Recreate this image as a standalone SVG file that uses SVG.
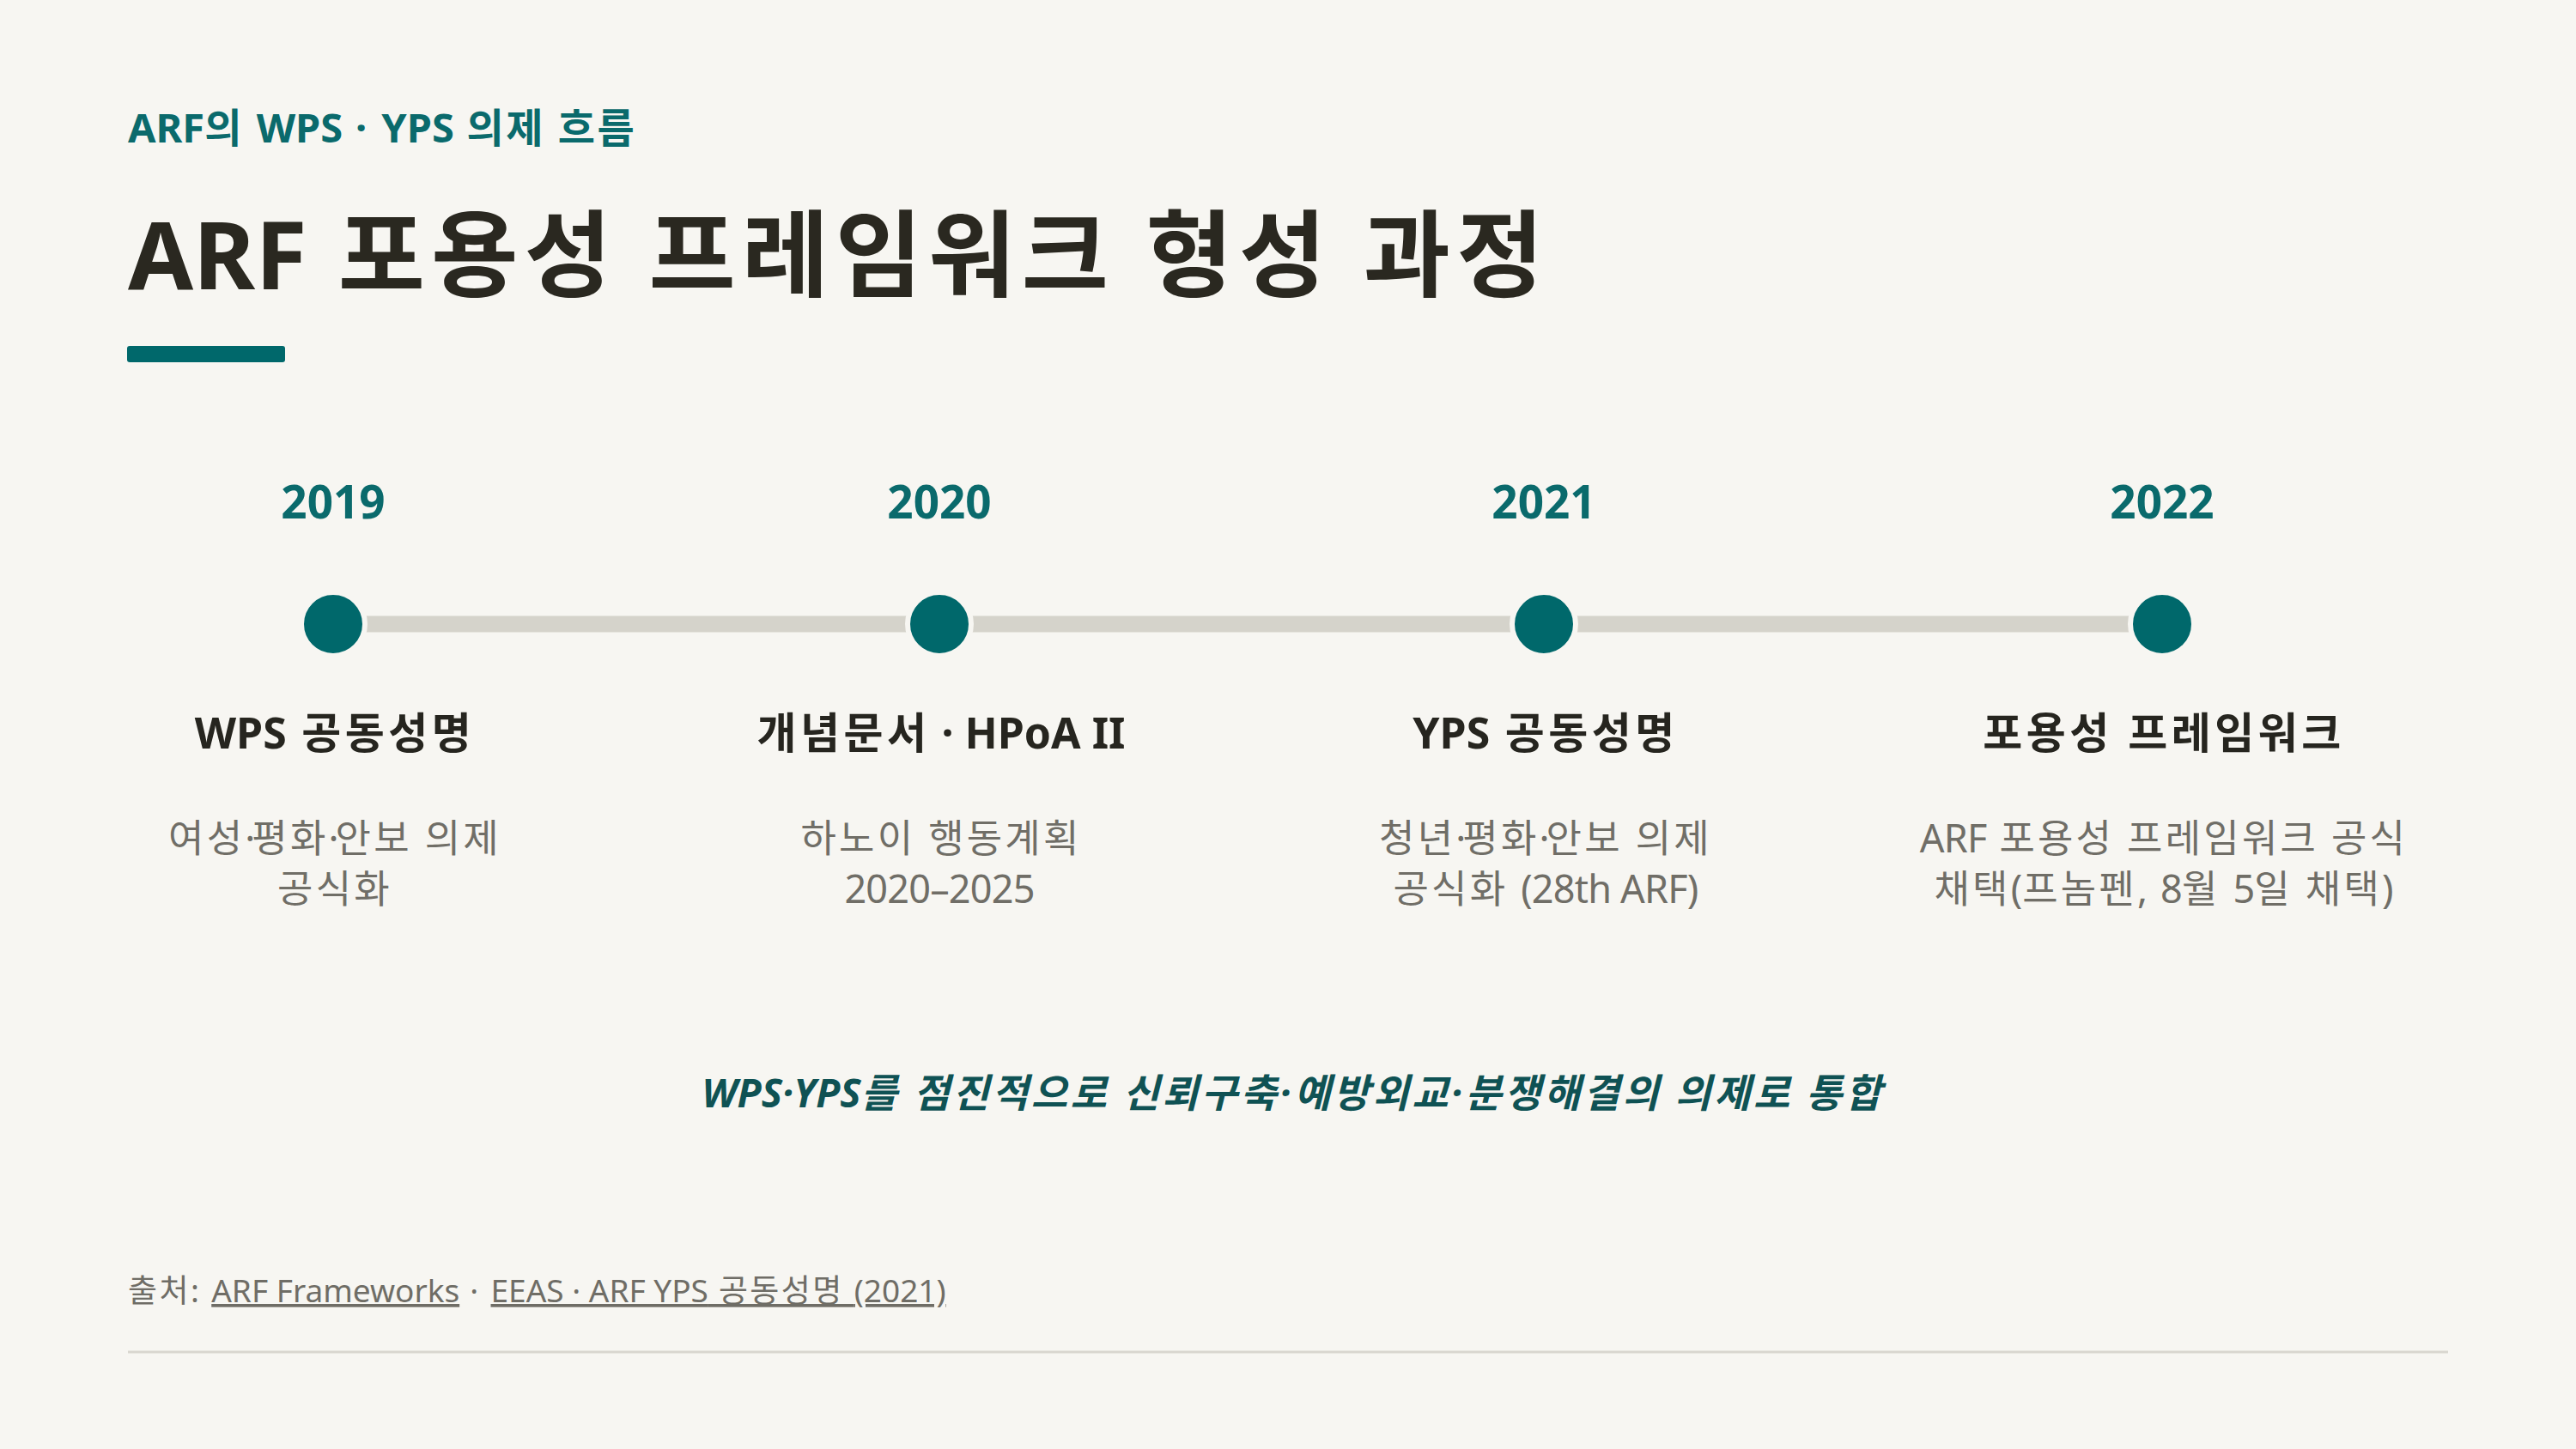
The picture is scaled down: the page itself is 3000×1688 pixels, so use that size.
<svg xmlns="http://www.w3.org/2000/svg" width="3000" height="1688" viewBox="0 0 3000 1688">
<style>
text{font-family:"Noto Sans","Noto Sans CJK KR",sans-serif}
.l{letter-spacing:0}
.ld{letter-spacing:-0.8px}
.dt{letter-spacing:-4px}
.sub{font-size:47px;font-weight:700;fill:#0a6a6c;letter-spacing:2.5px}
.title{font-size:110px;font-weight:700;fill:#2a2820;letter-spacing:7.4px}
.year{font-size:53px;font-weight:700;fill:#0a6a6c;text-anchor:middle}
.head{font-size:50px;font-weight:700;fill:#26251f;text-anchor:middle;letter-spacing:4.5px}
.desc{font-size:45px;font-weight:400;fill:#706e67;text-anchor:middle;letter-spacing:3.2px}
.note{font-size:46px;font-weight:700;font-style:italic;fill:#0f5254;text-anchor:middle;letter-spacing:3.4px}
.foot{font-size:37px;font-weight:400;fill:#6f6d66;letter-spacing:2.4px}
.dot{fill:#00686b;stroke:#f7f6f2;stroke-width:6}
</style>
<rect width="3000" height="1688" fill="#f7f6f2"/>
<g id="header">
<text class="sub" x="149" y="166"><tspan class="l">ARF</tspan>의 <tspan class="l">WPS</tspan> · <tspan class="l">YPS</tspan> 의제 흐름</text>
<text class="title" x="149" y="337"><tspan class="l">ARF</tspan> 포용성 프레임워크 형성 과정</text>
<rect x="148" y="403" width="184" height="19" rx="3" fill="#00686b"/>
</g>
<g id="connectors">
<line x1="388" y1="727" x2="2518" y2="727" stroke="#d5d3cb" stroke-width="19"/>
</g>
<g id="node-2019">
<text class="year" x="388" y="604">2019</text>
<circle class="dot" cx="388" cy="727" r="37"/>
<text class="head" x="390" y="872"><tspan class="l">WPS</tspan> 공동성명</text>
<text class="desc" x="390" y="993">여성<tspan class="dt">·</tspan>평화<tspan class="dt">·</tspan>안보 의제</text>
<text class="desc" x="390" y="1052">공식화</text>
</g>
<g id="node-2020">
<text class="year" x="1094" y="604">2020</text>
<circle class="dot" cx="1094" cy="727" r="37"/>
<text class="head" x="1096" y="872">개념문서<tspan class="l"> · HPoA II</tspan></text>
<text class="desc" x="1096" y="993">하노이 행동계획</text>
<text class="desc" x="1094" y="1052"><tspan class="ld">2020–2025</tspan></text>
</g>
<g id="node-2021">
<text class="year" x="1798" y="604">2021</text>
<circle class="dot" cx="1798" cy="727" r="37"/>
<text class="head" x="1800" y="872"><tspan class="l">YPS</tspan> 공동성명</text>
<text class="desc" x="1800" y="993">청년<tspan class="dt">·</tspan>평화<tspan class="dt">·</tspan>안보 의제</text>
<text class="desc" x="1800" y="1052">공식화 <tspan class="ld">(28th ARF)</tspan></text>
</g>
<g id="node-2022">
<text class="year" x="2518" y="604">2022</text>
<circle class="dot" cx="2518" cy="727" r="37"/>
<text class="head" x="2520" y="872">포용성 프레임워크</text>
<text class="desc" x="2520" y="993"><tspan class="ld">ARF</tspan> 포용성 프레임워크 공식</text>
<text class="desc" x="2520" y="1052">채택<tspan class="l">(</tspan>프놈펜<tspan class="l">,</tspan> <tspan class="ld">8</tspan>월 <tspan class="ld">5</tspan>일 채택<tspan class="l">)</tspan></text>
</g>
<g id="summary">
<text class="note" x="1506" y="1290"><tspan class="l">WPS·YPS</tspan>를 점진적으로 신뢰구축·예방외교·분쟁해결의 의제로 통합</text>
</g>
<g id="footer">
<text class="foot" x="149" y="1517">출처: <tspan text-decoration="underline"><tspan class="l">ARF Frameworks</tspan></tspan> · <tspan text-decoration="underline"><tspan class="l">EEAS · ARF YPS</tspan> 공동성명 <tspan class="l">(2021)</tspan></tspan></text>
<line x1="149" y1="1575" x2="2851" y2="1575" stroke="#d9d7d0" stroke-width="3"/>
</g>
</svg>
